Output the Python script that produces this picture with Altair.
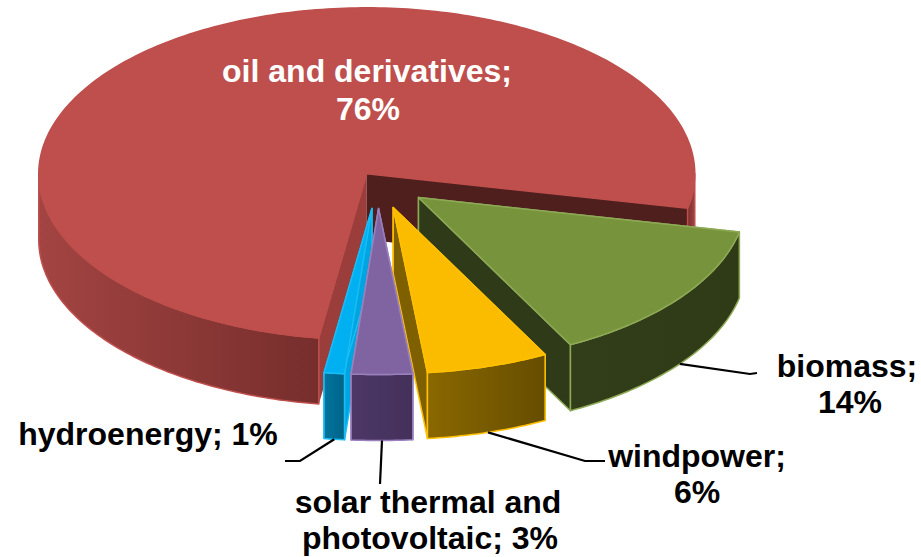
import numpy as np
import altair as alt

# Slices in clockwise draw order around the pie
sources = ["biomass", "windpower", "solar thermal and photovoltaic", "hydroenergy", "oil and derivatives"]
shares = [14, 6, 3, 1, 76]
explosion = [0.155, 0.16, 0.16, 0.16, 0.06]

top_colors = ["#77933C", "#FBBC00", "#8064A2", "#00B0F0", "#BE4F4C"]
edge_colors = ["#8DA955", "#FFC000", "#9A80BC", "#19BDF5", "#BE4F4C"]
start_cut_colors = ["#2F3B18", "#7F6000", "#403152", "#00A4E0", "#9A3D3B"]
end_cut_colors = ["#2F3B18", "#7F6000", "#403152", "#00A4E0", "#4F1F1E"]
rim_stops = [
    ["#323D19", "#2F3A17"],
    ["#8A6800", "#664D00"],
    ["#4C3766", "#44315A"],
    ["#00749F", "#006487"],
    ["#A34442", "#762E2C"],
]
paint_order = ["oil and derivatives", "biomass", "windpower", "hydroenergy", "solar thermal and photovoltaic"]

# Label rows: text, centre x, centre y, colour
label_rows = [
    ("oil and derivatives;", 367, 72, "white"),
    ("76%", 368, 110, "white"),
    ("biomass;", 847, 367, "black"),
    ("14%", 850, 403, "black"),
    ("windpower;", 697, 457, "black"),
    ("6%", 697, 493, "black"),
    ("solar thermal and", 428, 503, "black"),
    ("photovoltaic; 3%", 430, 539, "black"),
    ("hydroenergy; 1%", 148, 435, "black"),
]
# Leader line ends beyond each slice's rim: list of elbow and end points
leader_ends = {
    "biomass": [(750, 374), (757, 373)],
    "windpower": [(585, 461), (605, 461)],
    "solar thermal and photovoltaic": [(380, 484)],
    "hydroenergy": [(300, 461), (285, 461)],
}

CX, CY, RX, RY, DEPTH = 378, 182, 328, 166, 66
START_ANGLE = 12


def rim(apex, deg, drop=0.0):
    t = np.radians(deg)
    return [apex[0] + RX * np.cos(t), apex[1] + RY * np.sin(t) + drop]


def feature(points):
    pts = [[float(x), float(y)] for x, y in points]
    pts.append(pts[0])
    return {"type": "Feature", "properties": {}, "geometry": {"type": "Polygon", "coordinates": [pts]}}


def arc_angles(a0, a1):
    return list(np.linspace(a0, a1, max(int(abs(a1 - a0)) + 2, 3)))


identity = dict(type="identity", scale=1, translate=[0, 0])


def shape(points, **style):
    return (
        alt.Chart(alt.Data(values=[feature(points)]))
        .mark_geoshape(**style)
        .project(**identity)
    )


def gradient(stops):
    n = len(stops) - 1
    return alt.Gradient(
        gradient="linear",
        x1=0, x2=1, y1=0, y2=0,
        stops=[alt.GradientStop(color=c, offset=i / n) for i, c in enumerate(stops)],
    )


# Angular extent and exploded apex of each slice
slices = {}
angle = START_ANGLE
for i, name in enumerate(sources):
    sweep = shares[i] * 3.6
    mid = np.radians(angle + sweep / 2)
    apex = [CX + explosion[i] * RX * np.cos(mid), CY + explosion[i] * RY * np.sin(mid)]
    slices[name] = dict(i=i, a0=angle, a1=angle + sweep, apex=apex)
    angle += sweep

layers = []
leaders = []
for name in paint_order:
    s = slices[name]
    i, a0, a1, apex = s["i"], s["a0"], s["a1"], s["apex"]
    sunk = [apex[0], apex[1] + DEPTH]
    edge = dict(stroke=edge_colors[i], strokeWidth=1.5, strokeJoin="round")
    cut_edge = edge if name != "oil and derivatives" else {}

    # Cut faces that run from the apex out to the rim
    layers.append(shape([apex, rim(apex, a0), rim(apex, a0, DEPTH), sunk], fill=start_cut_colors[i], **cut_edge))
    layers.append(shape([apex, rim(apex, a1), rim(apex, a1, DEPTH), sunk], fill=end_cut_colors[i], **cut_edge))

    # Outer wall, only where the rim faces the viewer
    spans = [(a0, min(a1, 180))] if a0 < 180 else []
    if a1 > 360:
        spans.append((360, a1))
    for b0, b1 in spans:
        top_arc = [rim(apex, d) for d in arc_angles(b0, b1)]
        low_arc = [rim(apex, d, DEPTH) for d in arc_angles(b1, b0)]
        stops = rim_stops[i][::-1] if b0 == 360 else rim_stops[i]
        layers.append(shape(top_arc + low_arc, fill=gradient(stops), **edge))

    # Top face of the slice
    top = [apex] + [rim(apex, d) for d in arc_angles(a0, a1)]
    layers.append(shape(top, fill=top_colors[i], **edge))

    # Leader line from the bottom of the rim at mid-slice
    if name in leader_ends:
        start = rim(apex, (a0 + a1) / 2, DEPTH)
        for k, (x, y) in enumerate([start] + leader_ends[name]):
            leaders.append({"source": name, "step": k, "x": x, "y": y})

x_scale = alt.Scale(domain=[0, 921], range=[0, 921])
y_scale = alt.Scale(domain=[0, 557], range=[0, 557])

leader_layer = alt.Chart(alt.Data(values=leaders)).mark_line(
    color="black", strokeWidth=2.2, interpolate="linear"
).encode(
    x=alt.X("x:Q", scale=x_scale, axis=None),
    y=alt.Y("y:Q", scale=y_scale, axis=None),
    detail="source:N",
    order="step:Q",
)

label_values = [{"text": t, "x": x, "y": y, "colour": c} for t, x, y, c in label_rows]
label_layer = alt.Chart(alt.Data(values=label_values)).mark_text(
    font="Liberation Sans", fontWeight="bold", fontSize=32, align="center", baseline="middle"
).encode(
    x=alt.X("x:Q", scale=x_scale, axis=None),
    y=alt.Y("y:Q", scale=y_scale, axis=None),
    text="text:N",
    color=alt.Color("colour:N", scale=None),
)

chart = alt.layer(*layers, leader_layer, label_layer).properties(
    width=921,
    height=557,
    padding=0,
    autosize=alt.AutoSizeParams(type="none"),
    background="white",
).configure_view(stroke=None)

chart.save("out.html", embed_options={"renderer": "svg", "actions": False})
